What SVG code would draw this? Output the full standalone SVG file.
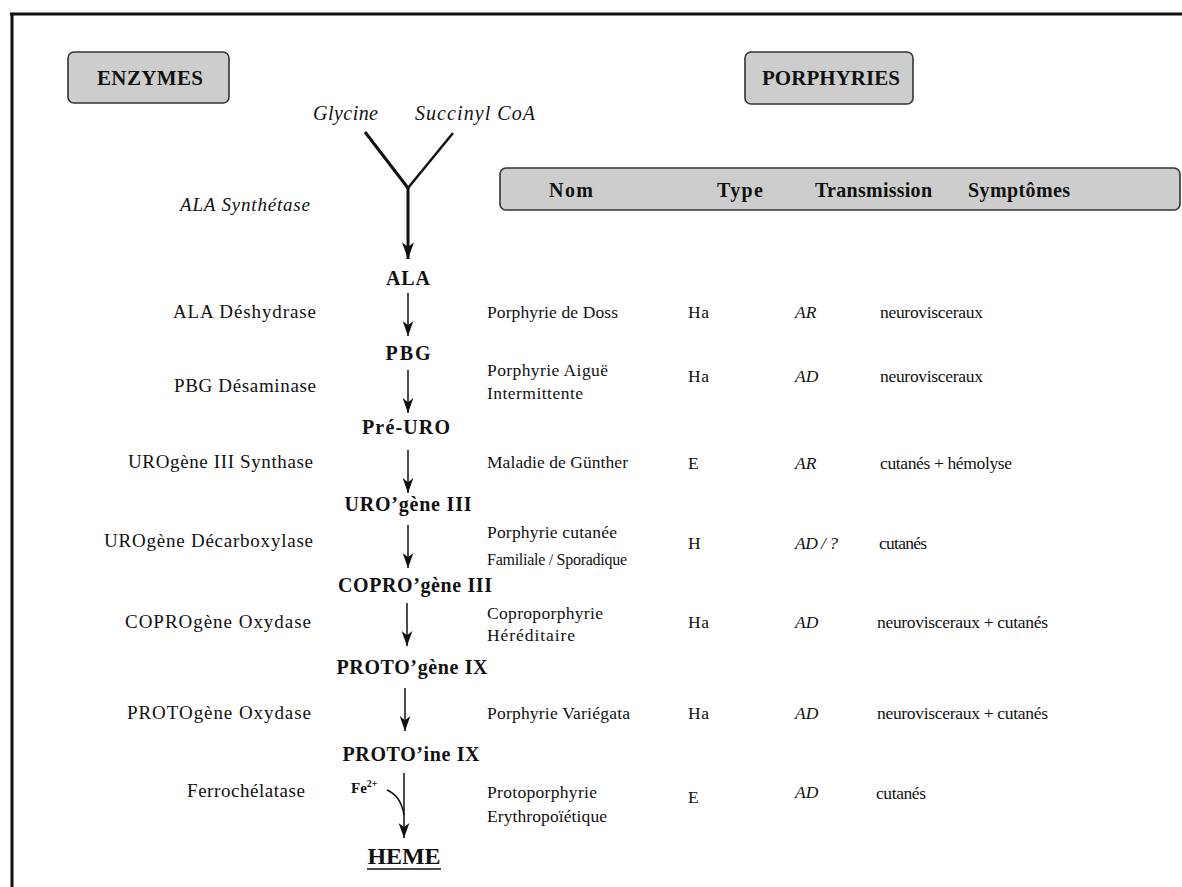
<svg xmlns="http://www.w3.org/2000/svg" width="1182" height="887" viewBox="0 0 1182 887">
<defs>
<style>
.t{font-family:"Liberation Serif","Times New Roman",serif;font-size:17.5px;fill:#111}
.z{font-size:19px}
.h{font-size:20px}
.i{font-style:italic}
.b{font-weight:bold}
.m{text-anchor:middle;font-weight:bold;font-size:20px}
.box{fill:#cdcdcd;stroke:#333;stroke-width:1.6}
.ln{stroke:#111;stroke-width:1.5;fill:none}
</style>
<marker id="ah" viewBox="0 0 14 10" refX="14" refY="5" markerWidth="15" markerHeight="11" markerUnits="userSpaceOnUse" orient="auto">
<path d="M0,0 L14,5 L0,10 L4,5 Z" fill="#111"/>
</marker>
<marker id="ah2" viewBox="0 0 14 10" refX="14" refY="5" markerWidth="17" markerHeight="12" markerUnits="userSpaceOnUse" orient="auto">
<path d="M0,0 L14,5 L0,10 L4,5 Z" fill="#111"/>
</marker>
</defs>
<rect width="1182" height="887" fill="#fff"/>
<g id="frame">
<line x1="10" y1="14" x2="1182" y2="14" stroke="#111" stroke-width="3"/>
<line x1="12" y1="14" x2="12" y2="887" stroke="#111" stroke-width="3"/>
</g>
<g id="enzymes-header">
<rect class="box" x="68" y="52" width="161" height="51" rx="6"/>
<text class="t b" x="97" y="85" style="font-size:21px" textLength="106">ENZYMES</text>
</g>
<g id="porphyries-header">
<rect class="box" x="745" y="52" width="168" height="52" rx="6"/>
<text class="t b" x="762" y="85" style="font-size:21px" textLength="138">PORPHYRIES</text>
</g>
<g id="table-header">
<rect class="box" x="500" y="168" width="680" height="42" rx="6"/>
<text class="t b h" x="549" y="197" textLength="44">Nom</text>
<text class="t b h" x="717" y="197" textLength="46">Type</text>
<text class="t b h" x="815" y="197" textLength="117">Transmission</text>
<text class="t b h" x="968" y="197" textLength="102">Symptômes</text>
</g>
<g id="substrates">
<text class="t i h" x="313" y="120" textLength="65">Glycine</text>
<text class="t i h" x="415" y="120" textLength="120">Succinyl CoA</text>
</g>
<g id="connectors">
<line x1="365" y1="132" x2="408" y2="188" stroke="#111" stroke-width="3"/>
<line x1="453" y1="133" x2="408" y2="188" stroke="#111" stroke-width="2.5"/>
<line x1="408" y1="188" x2="408" y2="259" stroke="#111" stroke-width="3" marker-end="url(#ah2)"/>
<line class="ln" x1="408" y1="293" x2="408" y2="336" marker-end="url(#ah)"/>
<line class="ln" x1="408" y1="370" x2="408" y2="413" marker-end="url(#ah)"/>
<line class="ln" x1="408" y1="450" x2="408" y2="493" marker-end="url(#ah)"/>
<line class="ln" x1="408" y1="525" x2="408" y2="568" marker-end="url(#ah)"/>
<line class="ln" x1="407" y1="603" x2="407" y2="646" marker-end="url(#ah)"/>
<line class="ln" x1="405" y1="688" x2="405" y2="731" marker-end="url(#ah)"/>
<line class="ln" x1="404" y1="773" x2="404" y2="838" marker-end="url(#ah)"/>
<path class="ln" d="M387,790 Q401,796 404,815"/>
</g>
<g id="intermediates">
<text class="t m" x="408" y="285" textLength="44">ALA</text>
<text class="t m" x="408" y="360" textLength="45">PBG</text>
<text class="t m" x="406" y="434" textLength="88">Pré-URO</text>
<text class="t m" x="408" y="511" textLength="127">URO’gène III</text>
<text class="t m" x="415" y="592" textLength="154">COPRO’gène III</text>
<text class="t m" x="412" y="674" textLength="151">PROTO’gène IX</text>
<text class="t m" x="411" y="761" textLength="137">PROTO’ine IX</text>
<text class="t b" x="351" y="793" style="font-size:15px">Fe<tspan style="font-size:10px" dy="-6">2+</tspan></text>
<text class="t m" x="404" y="864" style="font-size:24px" textLength="73">HEME</text>
<line x1="367" y1="869" x2="441" y2="869" stroke="#111" stroke-width="1.5"/>
</g>
<g id="enzyme-labels">
<text class="t i z" x="180" y="211" textLength="130">ALA Synthétase</text>
<text class="t z" x="173" y="318" textLength="143">ALA Déshydrase</text>
<text class="t z" x="174" y="392" textLength="142">PBG Désaminase</text>
<text class="t z" x="128" y="468" textLength="185">UROgène III Synthase</text>
<text class="t z" x="104" y="547" textLength="209">UROgène Décarboxylase</text>
<text class="t z" x="125" y="628" textLength="186">COPROgène Oxydase</text>
<text class="t z" x="127" y="719" textLength="184">PROTOgène Oxydase</text>
<text class="t z" x="187" y="797" textLength="118">Ferrochélatase</text>
</g>
<g id="row-doss">
<text class="t" x="487" y="318" textLength="131">Porphyrie de Doss</text>
<text class="t" x="688" y="318" textLength="21">Ha</text>
<text class="t i" x="795" y="318">AR</text>
<text class="t" x="880" y="318" textLength="103">neurovisceraux</text>
</g>
<g id="row-pai">
<text class="t" x="487" y="376" textLength="121">Porphyrie Aiguë</text>
<text class="t" x="487" y="399" textLength="96">Intermittente</text>
<text class="t" x="688" y="382" textLength="21">Ha</text>
<text class="t i" x="795" y="382">AD</text>
<text class="t" x="880" y="382" textLength="103">neurovisceraux</text>
</g>
<g id="row-gunther">
<text class="t" x="487" y="468" textLength="141">Maladie de Günther</text>
<text class="t" x="688" y="469">E</text>
<text class="t i" x="795" y="469">AR</text>
<text class="t" x="880" y="469" textLength="132">cutanés + hémolyse</text>
</g>
<g id="row-pct">
<text class="t" x="487" y="538" textLength="130">Porphyrie cutanée</text>
<text class="t" x="487" y="565" style="font-size:16px" textLength="140">Familiale / Sporadique</text>
<text class="t" x="688" y="549">H</text>
<text class="t i" x="795" y="549" textLength="43">AD / ?</text>
<text class="t" x="879" y="549" textLength="48">cutanés</text>
</g>
<g id="row-copro">
<text class="t" x="487" y="619" textLength="116">Coproporphyrie</text>
<text class="t" x="487" y="641" textLength="88">Héréditaire</text>
<text class="t" x="688" y="628" textLength="21">Ha</text>
<text class="t i" x="795" y="628">AD</text>
<text class="t" x="877" y="628" textLength="171">neurovisceraux + cutanés</text>
</g>
<g id="row-variegata">
<text class="t" x="487" y="719" textLength="143">Porphyrie Variégata</text>
<text class="t" x="688" y="719" textLength="21">Ha</text>
<text class="t i" x="795" y="719">AD</text>
<text class="t" x="877" y="719" textLength="171">neurovisceraux + cutanés</text>
</g>
<g id="row-ppe">
<text class="t" x="487" y="798" textLength="110">Protoporphyrie</text>
<text class="t" x="487" y="822" textLength="120">Erythropoïétique</text>
<text class="t" x="688" y="803">E</text>
<text class="t i" x="795" y="798">AD</text>
<text class="t" x="876" y="799" textLength="50">cutanés</text>
</g>
</svg>
